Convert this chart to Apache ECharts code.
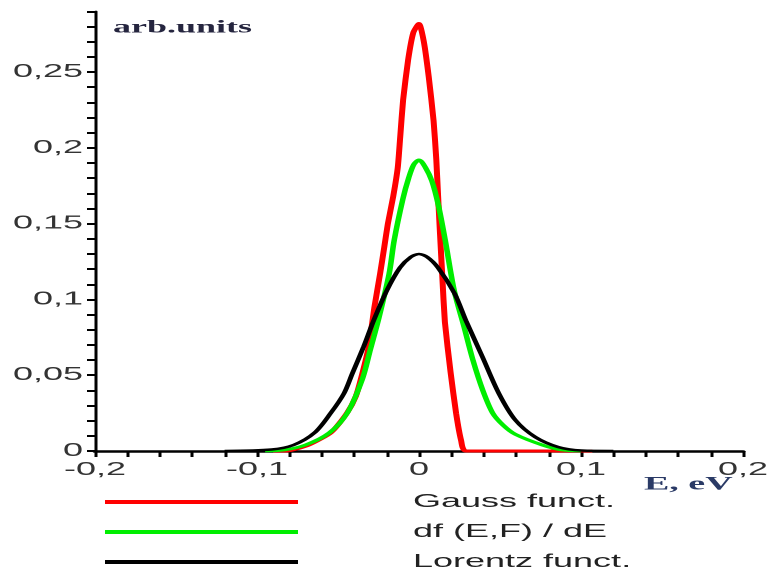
<!DOCTYPE html>
<html><head><meta charset="utf-8">
<script src="https://cdn.jsdelivr.net/npm/echarts@6/dist/echarts.min.js"></script>
<style>
html,body{margin:0;padding:0;background:#fff;overflow:hidden;}
#wrap{width:773px;height:575px;overflow:hidden;}
#chart{width:386.5px;height:575px;transform:scaleX(2);transform-origin:0 0;}
</style></head><body><div id="wrap"><div id="chart"></div></div>
<script>
// ---- data ----
const xTickLabels = ['-0,2', '-0,1', '0', '0,1', '0,2'];
const yTickLabels = ['0', '0,05', '0,1', '0,15', '0,2', '0,25'];
const seriesNames = ['Gauss funct.', 'df (E,F) / dE', 'Lorentz funct.'];
const yAxisName = 'arb.units';
const xAxisName = 'E, eV';

const gaussE = [-0.09, -0.082, -0.068, -0.0545, -0.0445, -0.039, -0.035, -0.031, -0.0275, -0.024, -0.0215, -0.0192, -0.0159, -0.0131, -0.0116, -0.0098, -0.0067, -0.0035, 0, 0.003, 0.006, 0.009, 0.0107, 0.0118, 0.0130, 0.0144, 0.0160, 0.0195, 0.0229, 0.026, 0.029, 0.107];
const gaussV = [0, 0, 0.004, 0.012, 0.025, 0.036, 0.051, 0.069, 0.095, 0.117, 0.134, 0.150, 0.168, 0.187, 0.207, 0.2315, 0.258, 0.276, 0.282, 0.270, 0.247, 0.218, 0.192, 0.168, 0.143, 0.115, 0.085, 0.052, 0.025, 0.007, 0, 0];

const dfE = [-0.095, -0.083, -0.070, -0.0553, -0.0443, -0.0351, -0.030, -0.0247, -0.0184, -0.0153, -0.0100, -0.0064, -0.0032, 0, 0.004, 0.008, 0.012, 0.0162, 0.0217, 0.0278, 0.0333, 0.0394, 0.0455, 0.052, 0.0595, 0.076, 0.088, 0.10];
const dfV = [0, 0.0007, 0.004, 0.012, 0.025, 0.047, 0.067, 0.088, 0.117, 0.139, 0.166, 0.180, 0.189, 0.192, 0.187, 0.178, 0.162, 0.139, 0.106, 0.082, 0.060, 0.040, 0.025, 0.017, 0.011, 0.004, 0.0007, 0];

const lorentzE = [-0.12, -0.091, -0.0773, -0.0645, -0.0545, -0.0463, -0.0412, -0.0341, -0.028, -0.0198, -0.0117, -0.005, 0, 0.005, 0.0117, 0.0219, 0.029, 0.0392, 0.0493, 0.0595, 0.0718, 0.086, 0.1004, 0.12];
const lorentzV = [0, 0.001, 0.004, 0.012, 0.025, 0.038, 0.051, 0.069, 0.086, 0.106, 0.121, 0.128, 0.130, 0.128, 0.121, 0.104, 0.086, 0.062, 0.038, 0.0204, 0.0092, 0.0026, 0.0003, 0];

const zip = (a, b) => a.map((v, i) => [v, b[i]]);
const SANS = '"Liberation Sans", Arial, sans-serif';
const SERIF = '"Liberation Serif", "Times New Roman", serif';

function pickLabel(v, start, step, labels) {
  const k = (v - start) / step;
  const r = Math.round(k);
  return Math.abs(k - r) < 1e-6 && labels[r] !== undefined ? labels[r] : '';
}

const chart = echarts.init(document.getElementById('chart'), null, { renderer: 'canvas', devicePixelRatio: 2 });
chart.setOption({
  animation: false,
  backgroundColor: '#fff',
  grid: { left: 47.5, right: 11.5, top: 11.4, bottom: 124, containLabel: false },
  xAxis: {
    type: 'value', min: -0.2, max: 0.2, interval: 0.02,
    axisLine: { show: true, onZero: false, lineStyle: { color: '#000', width: 2.5 } },
    axisTick: { show: true, inside: false, length: 6, lineStyle: { color: '#000', width: 1.5 } },
    axisLabel: {
      show: true, margin: 10, fontSize: 18, fontFamily: SANS, color: '#333',
      formatter: v => pickLabel(v, -0.2, 0.1, xTickLabels)
    },
    splitLine: { show: false }
  },
  yAxis: {
    type: 'value', min: 0, max: 0.29, interval: 0.01,
    axisLine: { show: true, onZero: false, lineStyle: { color: '#000', width: 1.5 } },
    axisTick: { show: true, inside: false, length: 4, lineStyle: { color: '#000', width: 2 } },
    axisLabel: {
      show: true, margin: 6, fontSize: 18, fontFamily: SANS, color: '#333',
      formatter: v => pickLabel(v, 0, 0.05, yTickLabels)
    },
    splitLine: { show: false }
  },
  legend: {
    orient: 'vertical', left: 52.5, top: 492, height: 83, padding: 0, itemGap: 10,
    itemWidth: 96.5, itemHeight: 4, icon: 'rect',
    itemStyle: { borderWidth: 0 },
    textStyle: { fontSize: 18, fontFamily: SANS, color: '#222', lineHeight: 20, padding: [0, 0, 0, 52.5] },
    data: seriesNames
  },
  graphic: [
    { type: 'text', left: 56.5, top: 19, style: { text: yAxisName, font: 'bold 18px ' + SERIF, fill: '#25253f' } },
    { type: 'text', left: 322, top: 475, style: { text: xAxisName, font: 'bold 19px ' + SERIF, fill: '#2a3a66' } }
  ],
  series: [
    { name: seriesNames[0], type: 'line', data: zip(gaussE, gaussV), symbol: 'none', smooth: 0.2,
      lineStyle: { color: '#ff0000', width: 3 }, itemStyle: { color: '#ff0000' } },
    { name: seriesNames[1], type: 'line', data: zip(dfE, dfV), symbol: 'none', smooth: 0.3,
      lineStyle: { color: '#00ee00', width: 2.8 }, itemStyle: { color: '#00ee00' } },
    { name: seriesNames[2], type: 'line', data: zip(lorentzE, lorentzV), symbol: 'none', smooth: 0.3,
      lineStyle: { color: '#000000', width: 2.5 }, itemStyle: { color: '#000000' } }
  ]
});
</script></body></html>
